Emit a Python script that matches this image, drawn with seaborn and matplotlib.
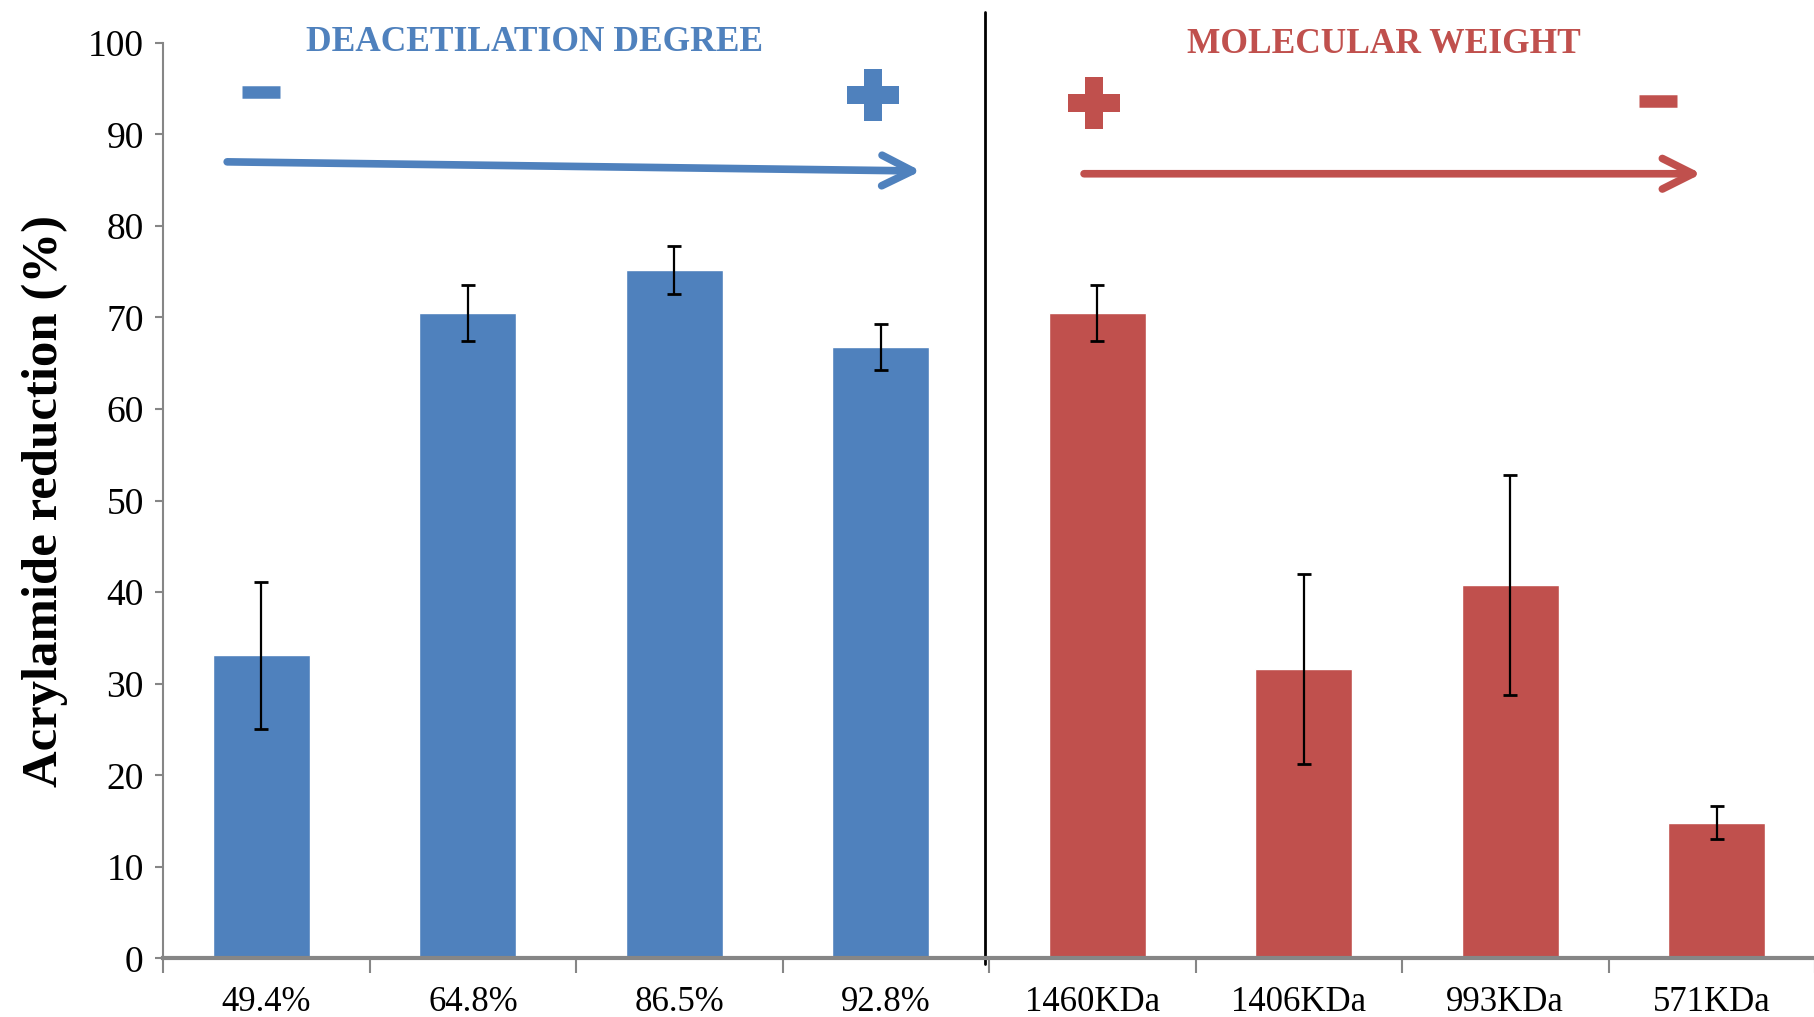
import numpy as np
import pandas as pd
import seaborn as sns
import matplotlib.pyplot as plt

# Data
labels = ['49.4%', '64.8%', '86.5%', '92.8%', '1460KDa', '1406KDa', '993KDa', '571KDa']
groups = ['DD', 'DD', 'DD', 'DD', 'MW', 'MW', 'MW', 'MW']
values = [33.1, 70.5, 75.2, 66.8, 70.5, 31.6, 40.8, 14.8]
errors = [8.0, 3.1, 2.65, 2.5, 3.1, 10.4, 12.0, 1.8]

BLUE = '#4F81BD'
RED = '#C0504D'
# small horizontal shift of each group inside its category (as in the original)
shift = {'DD': -0.025, 'MW': 0.025}

sns.set_style('white')
plt.rcParams['font.family'] = ['Liberation Serif', 'DejaVu Serif']
plt.rcParams['text.color'] = 'black'
plt.rcParams['xtick.labelcolor'] = 'black'
plt.rcParams['ytick.labelcolor'] = 'black'
plt.rcParams['axes.labelcolor'] = 'black'

df = pd.DataFrame({'label': labels, 'group': groups, 'value': values})

fig = plt.figure(figsize=(18.15, 10.17), dpi=100)
ax = fig.add_axes([0.0899, 0.0576, 0.9101, 0.9003])

sns.barplot(data=df, x='label', y='value', hue='group', order=labels,
            palette={'DD': BLUE, 'MW': RED}, dodge=False, width=0.47,
            saturation=1, legend=False, ax=ax)

# move bars by their group shift
for p in ax.patches:
    cx = p.get_x() + p.get_width() / 2
    g = groups[int(round(cx))]
    p.set_x(p.get_x() + shift[g])

xpos = np.arange(len(values)) + np.array([shift[g] for g in groups])
ax.errorbar(xpos, values, yerr=errors, fmt='none',
            ecolor='black', elinewidth=1.6, capsize=5, capthick=2)

ax.set_ylim(0, 100)
ax.set_xlim(-0.5, 7.5)
ax.set_yticks(range(0, 101, 10))
ax.tick_params(axis='y', labelsize=27, direction='out', length=6, color='#868686', width=1.5, pad=8, left=True)
ax.tick_params(axis='x', which='major', labelsize=25, length=0, pad=20)
ax.set_xticks(np.arange(-0.5, 7.6, 1), minor=True)
ax.tick_params(axis='x', which='minor', direction='out', length=11, color='#868686', width=1.5, bottom=True)
for s in ['top', 'right']:
    ax.spines[s].set_visible(False)
ax.spines['left'].set_color('#868686')
ax.spines['left'].set_linewidth(1.5)
ax.spines['bottom'].set_color('#868686')
ax.spines['bottom'].set_linewidth(3)
ax.set_xlabel('')
ax.set_ylabel('Acrylamide reduction (%)', fontsize=36.5, fontweight='bold', labelpad=14)

# separator line
ax.axvline(3.48, ymin=-0.006, ymax=1.034, color='black', lw=2, clip_on=False)

# group titles
ax.text(1.30, 100.0, 'DEACETILATION DEGREE', color=BLUE, fontsize=25.5, fontweight='bold',
        ha='center', va='center', clip_on=False)
ax.text(5.41, 99.8, 'MOLECULAR WEIGHT', color=RED, fontsize=25.5, fontweight='bold',
        ha='center', va='center', clip_on=False)

# trend arrows
head = '->,head_length=2.2,head_width=1.1'
ax.annotate('', xy=(3.17, 86.0), xytext=(-0.19, 87.0),
            arrowprops=dict(arrowstyle=head, color=BLUE, lw=5.5, shrinkA=0, shrinkB=0))
ax.annotate('', xy=(6.95, 85.7), xytext=(3.96, 85.7),
            arrowprops=dict(arrowstyle=head, color=RED, lw=5.5, shrinkA=0, shrinkB=0))

# plus / minus signs
ax.plot([-0.024], [94.6], marker='_', markersize=27, markeredgewidth=9, color=BLUE)
ax.plot([2.94], [94.3], marker='P', markersize=38, markeredgewidth=0, color=BLUE)
ax.plot([4.007], [93.4], marker='P', markersize=38, markeredgewidth=0, color=RED)
ax.plot([6.74], [93.6], marker='_', markersize=27, markeredgewidth=9, color=RED)

fig.savefig('out.png', dpi=100)
